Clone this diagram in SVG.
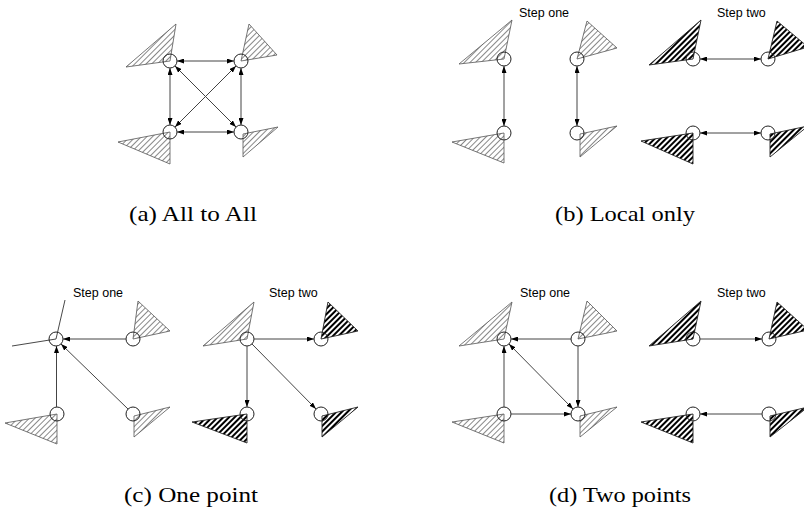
<svg xmlns="http://www.w3.org/2000/svg" width="804" height="512" viewBox="0 0 804 512">
<defs>
<pattern id="lh" width="4" height="4" patternUnits="userSpaceOnUse" patternTransform="rotate(45)"><line x1="0.5" y1="0" x2="0.5" y2="4" stroke="#555" stroke-width="0.7"/></pattern>
<pattern id="dh" width="4" height="4" patternUnits="userSpaceOnUse" patternTransform="rotate(45)"><line x1="1" y1="0" x2="1" y2="4" stroke="#000" stroke-width="2"/></pattern>
<marker id="ah" viewBox="0 0 7 5" refX="7" refY="2.5" markerWidth="7" markerHeight="5" markerUnits="userSpaceOnUse" orient="auto-start-reverse"><path d="M0,0 L7,2.5 L0,5 z" fill="#000"/></marker>
</defs>
<style>
.lw{fill:url(#lh);stroke:#555;stroke-width:0.8}
.dw{fill:url(#dh);stroke:#222;stroke-width:0.9}
.ew{fill:none;stroke:#333;stroke-width:0.9}
.nd{fill:none;stroke:#222;stroke-width:1}
.c line{stroke:#444;stroke-width:1}
.s{marker-end:url(#ah)}
.d{marker-start:url(#ah);marker-end:url(#ah)}
.st{font-family:"Liberation Sans",Arial,sans-serif;font-size:12.5px;fill:#000}
.cap{font-family:"Liberation Serif","Times New Roman",serif;font-size:22px;fill:#000;text-anchor:middle}
</style>

<!-- (a) -->
<g id="a-tl"><polygon class="lw" points="170,61 176,24 126,67"/><circle class="nd" cx="170" cy="61" r="7"/></g>
<g id="a-tr"><polygon class="lw" points="241,61 249,24 277,55"/><circle class="nd" cx="241" cy="61" r="7"/></g>
<g id="a-bl"><polygon class="lw" points="170,132 118,142 170,164"/><circle class="nd" cx="170" cy="132" r="7"/></g>
<g id="a-br"><polygon class="lw" points="243,134 278,127 243,157"/><circle class="nd" cx="241" cy="132" r="7"/></g>

<!-- (b) step one -->
<g id="b1-tl"><polygon class="lw" points="504,59 512,20 459,64"/><circle class="nd" cx="504" cy="59" r="7"/></g>
<g id="b1-tr"><polygon class="lw" points="577,59 587,21 617,48"/><circle class="nd" cx="577" cy="59" r="7"/></g>
<g id="b1-bl"><polygon class="lw" points="504,133 452,142 504,163"/><circle class="nd" cx="504" cy="133" r="7"/></g>
<g id="b1-br"><polygon class="lw" points="580,134 617,126 580,157"/><circle class="nd" cx="577" cy="133" r="7"/></g>

<!-- (b) step two -->
<g id="b2-tl"><polygon class="dw" points="693,59 701,20 649,65"/><circle class="nd" cx="693" cy="59" r="7"/></g>
<g id="b2-tr"><polygon class="dw" points="768,59 777,21 808,47"/><circle class="nd" cx="768" cy="59" r="7"/></g>
<g id="b2-bl"><polygon class="dw" points="693,133 641,141 693,164"/><circle class="nd" cx="693" cy="133" r="7"/></g>
<g id="b2-br"><polygon class="dw" points="770,134 808,126 770,157"/><circle class="nd" cx="768" cy="133" r="7"/></g>

<!-- (c) step one -->
<g id="c1-tl"><polyline class="ew" points="65,300 56,339 12,346"/><circle class="nd" cx="56" cy="339" r="7"/></g>
<g id="c1-tr"><polygon class="lw" points="133,339 138,301 170,331"/><circle class="nd" cx="133" cy="339" r="7"/></g>
<g id="c1-bl"><polygon class="lw" points="57,414 5,423 57,444"/><circle class="nd" cx="57" cy="414" r="7"/></g>
<g id="c1-br"><polygon class="lw" points="134,416 170,407 134,437"/><circle class="nd" cx="133" cy="414" r="7"/></g>

<!-- (c) step two -->
<g id="c2-tl"><polygon class="lw" points="247,339 254,302 203,346"/><circle class="nd" cx="247" cy="339" r="7"/></g>
<g id="c2-tr"><polygon class="dw" points="321,339 328,302 358,331"/><circle class="nd" cx="321" cy="339" r="7"/></g>
<g id="c2-bl"><polygon class="dw" points="247,414 192,422 247,443"/><circle class="nd" cx="247" cy="414" r="7"/></g>
<g id="c2-br"><polygon class="dw" points="322,416 358,407 322,437"/><circle class="nd" cx="321" cy="414" r="7"/></g>

<!-- (d) step one -->
<g id="d1-tl"><polygon class="lw" points="504,339 512,302 459,346"/><circle class="nd" cx="504" cy="339" r="7"/></g>
<g id="d1-tr"><polygon class="lw" points="578,339 587,301 617,331"/><circle class="nd" cx="578" cy="339" r="7"/></g>
<g id="d1-bl"><polygon class="lw" points="504,414 452,422 504,443"/><circle class="nd" cx="504" cy="414" r="7"/></g>
<g id="d1-br"><polygon class="lw" points="580,416 617,407 580,437"/><circle class="nd" cx="578" cy="414" r="7"/></g>

<!-- (d) step two -->
<g id="d2-tl"><polygon class="dw" points="693,339 701,301 649,346"/><circle class="nd" cx="693" cy="339" r="7"/></g>
<g id="d2-tr"><polygon class="dw" points="769,339 777,302 808,330"/><circle class="nd" cx="769" cy="339" r="7"/></g>
<g id="d2-bl"><polygon class="dw" points="693,414 641,422 693,443"/><circle class="nd" cx="693" cy="414" r="7"/></g>
<g id="d2-br"><polygon class="dw" points="770,416 808,407 770,437"/><circle class="nd" cx="769" cy="414" r="7"/></g>

<g id="connectors" class="c">
<!-- (a) -->
<line class="d" x1="177" y1="61" x2="234" y2="61"/>
<line class="d" x1="177" y1="132" x2="234" y2="132"/>
<line class="d" x1="170" y1="68" x2="170" y2="125"/>
<line class="d" x1="241" y1="68" x2="241" y2="125"/>
<line class="d" x1="175" y1="66" x2="236" y2="127"/>
<line class="d" x1="236" y1="66" x2="175" y2="127"/>
<!-- (b) -->
<line class="d" x1="504" y1="66" x2="504" y2="126"/>
<line class="d" x1="577" y1="66" x2="577" y2="126"/>
<line class="d" x1="700" y1="59" x2="761" y2="59"/>
<line class="d" x1="700" y1="133" x2="761" y2="133"/>
<!-- (c) -->
<line class="s" x1="126" y1="339" x2="63" y2="339"/>
<line class="s" x1="56.5" y1="407" x2="56.5" y2="346"/>
<line class="s" x1="128" y1="409" x2="61" y2="344"/>
<line class="s" x1="254" y1="339" x2="314" y2="339"/>
<line class="s" x1="247" y1="346" x2="247" y2="407"/>
<line class="s" x1="252" y1="344" x2="316" y2="409"/>
<!-- (d) -->
<line class="s" x1="571" y1="339" x2="511" y2="339"/>
<line class="s" x1="504" y1="407" x2="504" y2="346"/>
<line class="s" x1="578" y1="346" x2="578" y2="407"/>
<line class="s" x1="511" y1="414" x2="571" y2="414"/>
<line class="d" x1="509" y1="344" x2="573" y2="409"/>
<line class="s" x1="700" y1="339" x2="762" y2="339"/>
<line class="s" x1="762" y1="414" x2="700" y2="414"/>
</g>

<g id="labels">
<text class="st" x="519" y="17">Step one</text>
<text class="st" x="717" y="17">Step two</text>
<text class="st" x="73" y="297">Step one</text>
<text class="st" x="269" y="297">Step two</text>
<text class="st" x="520" y="297">Step one</text>
<text class="st" x="717" y="297">Step two</text>
<text class="cap" x="193" y="221" textLength="128" lengthAdjust="spacingAndGlyphs">(a) All to All</text>
<text class="cap" x="625" y="221" textLength="140" lengthAdjust="spacingAndGlyphs">(b) Local only</text>
<text class="cap" x="191" y="502" textLength="134" lengthAdjust="spacingAndGlyphs">(c) One point</text>
<text class="cap" x="620" y="502" textLength="142" lengthAdjust="spacingAndGlyphs">(d) Two points</text>
</g>
</svg>
